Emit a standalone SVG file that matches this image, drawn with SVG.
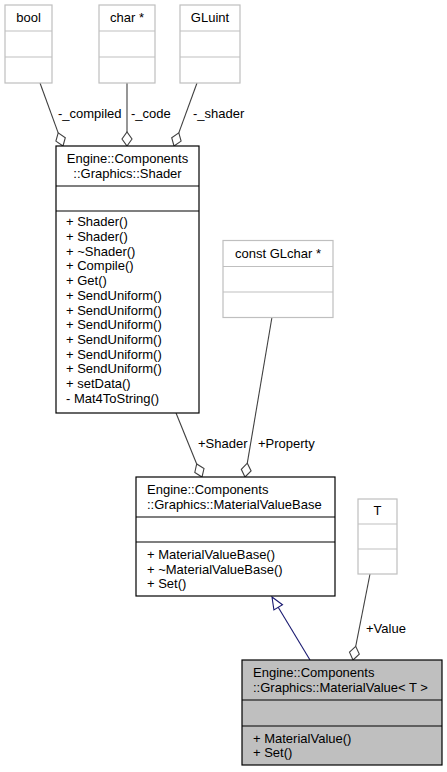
<svg xmlns="http://www.w3.org/2000/svg" width="447" height="772" viewBox="0 0 447 772">
<style>
text{font-family:"Liberation Sans",Arial,sans-serif;font-size:13px;fill:#000}
.ext rect,.ext line{stroke:#bfbfbf;stroke-width:1.2;fill:#fff}
.cls rect,.cls line{stroke:#000;stroke-width:1.2;fill:#fff}
.cur rect{fill:#bfbfbf}
.c{text-anchor:middle}
.agg{stroke:#404040;stroke-width:1.1;fill:none}
.dia{stroke:#404040;stroke-width:1.1;fill:#fff}
.gen{stroke:#191970;stroke-width:1.1;fill:none}
.tri{stroke:#191970;stroke-width:1.1;fill:#fff}
</style>
<rect width="447" height="772" fill="#fff"/>
<g id="connectors">
<line class="agg" x1="40" y1="83" x2="58.2" y2="132.9"/>
<polygon class="dia" points="63,146 65.3,137.7 58.2,132.9 55.9,141.1"/>
<text x="58" y="118">-_compiled</text>
<line class="agg" x1="127" y1="83" x2="127" y2="132"/>
<polygon class="dia" points="127,146 132,139 127,132 122,139"/>
<text x="131" y="118">-_code</text>
<line class="agg" x1="197" y1="83" x2="178.8" y2="132.9"/>
<polygon class="dia" points="174,146 181.1,141.1 178.8,132.9 171.7,137.7"/>
<text x="193" y="118">-_shader</text>
<line class="agg" x1="176" y1="413" x2="196.7" y2="464"/>
<polygon class="dia" points="202,477 204,468.6 196.7,464 194.8,472.4"/>
<text x="198" y="448">+Shader</text>
<line class="agg" x1="272" y1="317" x2="247.3" y2="463.2"/>
<polygon class="dia" points="245,477 251.1,470.9 247.3,463.2 241.3,469.3"/>
<text x="258" y="448">+Property</text>
<line class="agg" x1="370" y1="574" x2="355.7" y2="646.3"/>
<polygon class="dia" points="353,660 359.3,654.1 355.7,646.3 349.5,652.1"/>
<text x="366" y="633">+Value</text>
<line class="gen" x1="310" y1="660" x2="278.2" y2="607.3"/>
<polygon class="tri" points="272,597 282.5,604.7 273.9,609.9"/>
</g>
<g id="bool" class="ext">
<rect x="5" y="5" width="47" height="78"/>
<line x1="5" y1="31" x2="52" y2="31"/><line x1="5" y1="57" x2="52" y2="57"/>
<text class="c" x="28.5" y="22">bool</text>
</g>
<g id="char" class="ext">
<rect x="99" y="5" width="56" height="78"/>
<line x1="99" y1="31" x2="155" y2="31"/><line x1="99" y1="57" x2="155" y2="57"/>
<text class="c" x="127" y="22">char *</text>
</g>
<g id="GLuint" class="ext">
<rect x="180" y="5" width="60" height="78"/>
<line x1="180" y1="31" x2="240" y2="31"/><line x1="180" y1="57" x2="240" y2="57"/>
<text class="c" x="210" y="22">GLuint</text>
</g>
<g id="GLchar" class="ext">
<rect x="223" y="240.5" width="110" height="77"/>
<line x1="223" y1="266.5" x2="333" y2="266.5"/><line x1="223" y1="292" x2="333" y2="292"/>
<text class="c" x="278" y="258">const GLchar *</text>
</g>
<g id="T" class="ext">
<rect x="358" y="499" width="39" height="75"/>
<line x1="358" y1="524" x2="397" y2="524"/><line x1="358" y1="549" x2="397" y2="549"/>
<text class="c" x="377.5" y="515">T</text>
</g>
<g id="Shader" class="cls">
<rect x="56" y="146" width="143" height="267"/>
<line x1="56" y1="186" x2="199" y2="186"/><line x1="56" y1="211" x2="199" y2="211"/>
<text class="c" x="127.5" y="163">Engine::Components</text>
<text class="c" x="127.5" y="178">::Graphics::Shader</text>
<text x="66" y="226.3">+ Shader()</text>
<text x="66" y="241">+ Shader()</text>
<text x="66" y="255.7">+ ~Shader()</text>
<text x="66" y="270.4">+ Compile()</text>
<text x="66" y="285.1">+ Get()</text>
<text x="66" y="299.8">+ SendUniform()</text>
<text x="66" y="314.5">+ SendUniform()</text>
<text x="66" y="329.2">+ SendUniform()</text>
<text x="66" y="343.9">+ SendUniform()</text>
<text x="66" y="358.6">+ SendUniform()</text>
<text x="66" y="373.3">+ SendUniform()</text>
<text x="66" y="388">+ setData()</text>
<text x="66" y="402.7">- Mat4ToString()</text>
</g>
<g id="MaterialValueBase" class="cls">
<rect x="136" y="477" width="199" height="119"/>
<line x1="136" y1="517" x2="335" y2="517"/><line x1="136" y1="542" x2="335" y2="542"/>
<text x="147" y="494">Engine::Components</text>
<text x="147" y="509">::Graphics::MaterialValueBase</text>
<text x="147" y="558.8">+ MaterialValueBase()</text>
<text x="147" y="573.5">+ ~MaterialValueBase()</text>
<text x="147" y="588.2">+ Set()</text>
</g>
<g id="MaterialValue" class="cls cur">
<rect x="242" y="660" width="200" height="105"/>
<line x1="242" y1="700" x2="442" y2="700"/><line x1="242" y1="726" x2="442" y2="726"/>
<text x="253" y="677">Engine::Components</text>
<text x="253" y="692">::Graphics::MaterialValue&lt; T &gt;</text>
<text x="253" y="742.7">+ MaterialValue()</text>
<text x="253" y="757.3">+ Set()</text>
</g>
</svg>
